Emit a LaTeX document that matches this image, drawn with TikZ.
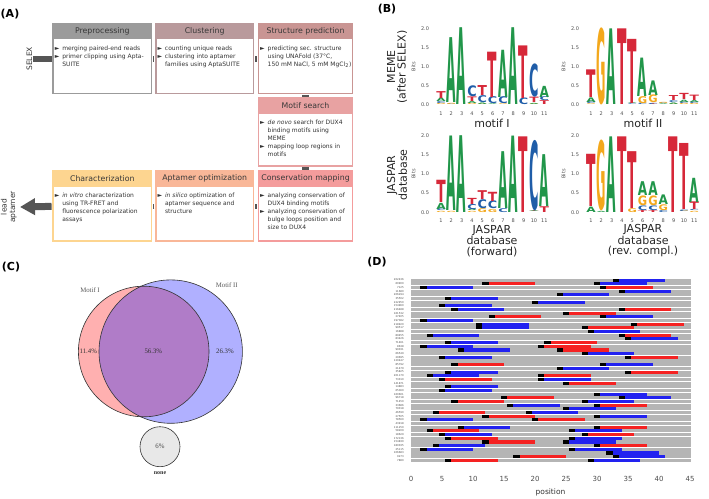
\documentclass[tikz,border=0pt]{standalone}
\usepackage{fontspec}
\setmainfont{DejaVu Sans}
\newfontfamily\vennfont{Liberation Serif}
\usepackage{graphicx}
\usetikzlibrary{arrows.meta, positioning}

% stage colours (A)
\definecolor{preC}{HTML}{9B9B9B}
\definecolor{cluC}{HTML}{B99A9C}
\definecolor{strC}{HTML}{C99593}
\definecolor{motC}{HTML}{E8A2A2}
\definecolor{chaC}{HTML}{FDD590}
\definecolor{optC}{HTML}{F9B798}
\definecolor{conC}{HTML}{F49C9C}
\definecolor{linkC}{HTML}{555555}
% nucleotides (B)
\definecolor{nA}{HTML}{21964A}
\definecolor{nC}{HTML}{1F5DA8}
\definecolor{nG}{HTML}{F3A81C}
\definecolor{nT}{HTML}{D62839}
% venn (C) and hits (D)
\definecolor{vennI}{HTML}{FFB0B0}
\definecolor{vennII}{HTML}{B0B0FF}
\definecolor{vennIII}{HTML}{B07CC8}
\definecolor{hitB}{HTML}{2222F0}
\definecolor{hitR}{HTML}{F52222}

\newcommand{\bul}{\makebox[7.5pt][l]{►}}
\newcommand{\ind}{\hspace*{7.5pt}}

% one logo column: letter/bits from bottom to top
\newcommand{\logocol}[2]{%
  \gdef\cum{0}%
  \foreach \ch/\bt in {#2}{%
    \pgfmathsetmacro\yb{\lbase-38.4*\cum}%
    \pgfmathsetmacro\hb{38.4*\bt}%
    \node[inner sep=0pt, anchor=south] at ({\lx+10.33*(#1-1)},\yb) {\resizebox{9.4pt}{\hb pt}{\textcolor{n\ch}{\bfseries\ch}}};%
    \pgfmathsetmacro\nc{\cum+\bt}\global\let\cum\nc
  }}

\begin{document}
\begin{tikzpicture}[x=1pt, y=-1pt,
  box/.style={draw, fill=white, line width=1.5pt, inner sep=0pt},
  hdr/.style={inner sep=0pt, minimum height=16.7pt, text=black!78, font=\fontsize{7.8}{9}\selectfont},
  body/.style={inner sep=0pt, align=left, text=black!80, font=\fontsize{6}{8}\selectfont},
  link/.style={linkC, line width=5.5pt, shorten <=0.75pt, shorten >=0.75pt},
  panel/.style={font=\fontsize{11}{13}\selectfont\bfseries},
  tick/.style={inner sep=0pt, text=black!70, font=\fontsize{5}{6}\selectfont},
  blab/.style={align=center, inner sep=0pt, text=black!85, font=\fontsize{11}{10.5}\selectfont},
  rowlab/.style={anchor=east, inner sep=0pt, text=black!70, font=\fontsize{2.6}{3}\selectfont},
  lane/.style={fill=black!29},
  vline/.style={draw=black!80, line width=0.6pt},
  vtext/.style={inner sep=0pt, text=black!80, font=\vennfont\fontsize{6.8}{8}\selectfont}]

\useasboundingbox (0,0) rectangle (709,498);

%%% (A) workflow
\node[panel] (pA) at (10,14) {(A)};

\node[box, draw=preC, minimum width=98.5pt, minimum height=69.5pt] (pre) at (102.3,58.8) {};
\node[box, draw=cluC, minimum width=97.8pt, minimum height=69.5pt] (clu) at (204.65,58.8) {};
\node[box, draw=strC, minimum width=94.1pt, minimum height=69.5pt] (str) at (305.5,58.8) {};
\node[box, draw=motC, minimum width=94.1pt, minimum height=67.5pt] (mot) at (305.5,132.2) {};
\node[box, draw=chaC, minimum width=98.5pt, minimum height=69.2pt] (cha) at (102.3,206.35) {};
\node[box, draw=optC, minimum width=97.8pt, minimum height=69.2pt] (opt) at (204.65,206.35) {};
\node[box, draw=conC, minimum width=94.1pt, minimum height=69.2pt] (con) at (305.5,206.35) {};

\node[hdr, fill=preC, minimum width=100pt, anchor=north] (preh) at ([yshift=0.75pt]pre.north) {Preprocessing};
\node[hdr, fill=cluC, minimum width=99.3pt, anchor=north] (cluh) at ([yshift=0.75pt]clu.north) {Clustering};
\node[hdr, fill=strC, minimum width=95.6pt, anchor=north] (strh) at ([yshift=0.75pt]str.north) {Structure prediction};
\node[hdr, fill=motC, minimum width=95.6pt, anchor=north] (moth) at ([yshift=0.75pt]mot.north) {Motif search};
\node[hdr, fill=chaC, minimum width=100pt, anchor=north] (chah) at ([yshift=0.75pt]cha.north) {Characterization};
\node[hdr, fill=optC, minimum width=99.3pt, anchor=north] (opth) at ([yshift=0.75pt]opt.north) {Aptamer optimization};
\node[hdr, fill=conC, minimum width=95.6pt, anchor=north] (conh) at ([yshift=0.75pt]con.north) {Conservation mapping};

\node[body, anchor=north west] (pret) at ([xshift=2.5pt,yshift=-5.8pt]preh.south west)
  {\bul merging paired-end reads\\\bul primer clipping using Apta-\\\ind SUITE};
\node[body, anchor=north west] (clut) at ([xshift=2.5pt,yshift=-5.8pt]cluh.south west)
  {\bul counting unique reads\\\bul clustering into aptamer\\\ind families using AptaSUITE};
\node[body, anchor=north west] (strt) at ([xshift=2.5pt,yshift=-5.8pt]strh.south west)
  {\bul predicting sec. structure\\\ind using UNAFold (37°C,\\\ind 150 mM NaCl, 5 mM MgCl\textsubscript{2})};
\node[body, anchor=north west] (mott) at ([xshift=2.5pt,yshift=-5.8pt]moth.south west)
  {\bul \textit{de novo} search for DUX4\\\ind binding motifs using\\\ind MEME\\\bul mapping loop regions in\\\ind motifs};
\node[body, anchor=north west] (chat) at ([xshift=2.5pt,yshift=-5.8pt]chah.south west)
  {\bul \textit{in vitro} characterization\\\ind using TR-FRET and\\\ind fluorescence polarization\\\ind assays};
\node[body, anchor=north west] (optt) at ([xshift=2.5pt,yshift=-5.8pt]opth.south west)
  {\bul \textit{in silico} optimization of\\\ind aptamer sequence and\\\ind structure};
\node[body, anchor=north west] (cont) at ([xshift=2.5pt,yshift=-5.8pt]conh.south west)
  {\bul analyzing conservation of\\\ind DUX4 binding motifs\\\bul analyzing conservation of\\\ind bulge loops position and\\\ind size to DUX4};

% links between stages
\draw[link] (pre.east) -- (clu.west);
\draw[link] (clu.east) -- (str.west);
\draw[link, line width=6.5pt] (str.south) -- (mot.north);
\draw[link, line width=6.5pt] (mot.south) -- (con.north);
\draw[link] (con.west) -- (opt.east);
\draw[link] (opt.west) -- (cha.east);

% input and output
\coordinate (selex) at (33,58.8);
\draw[link, line width=6pt, shorten <=0pt] (selex) -- (pre.west);
\node[rotate=90, inner sep=0pt, text=black!80, font=\fontsize{7.5}{9}\selectfont] (selexl) at (29.3,58.8) {SELEX};
\coordinate (lead) at (20,207);
\draw[linkC, line width=7pt, shorten <=0.75pt, -{Triangle[length=15pt,width=16pt]}] (cha.west) -- (lead);
\node[rotate=90, align=center, inner sep=0pt, text=black!80, font=\fontsize{7.5}{8.5}\selectfont] (leadl) at (8.75,207) {lead\\aptamer};

%%% (B) sequence logos
\node[panel] (pB) at (387,9) {(B)};
\node[blab, rotate=90] (memel) at (397,67) {MEME\\(after SELEX)};
\node[blab, rotate=90] (jasl) at (397,175) {JASPAR\\database};
\node[blab] (m1l) at (492,123) {motif I};
\node[blab] (m2l) at (643,123) {motif II};
\node[blab] (j1l) at (492,241) {JASPAR\\database\\(forward)};
\node[blab] (j2l) at (643,241) {JASPAR\\database\\(rev. compl.)};

% axes of the four logos
\foreach \ax/\by in {425/105, 575/105, 425/212.3, 575/212.3}{
  \foreach \v [count=\k from 0] in {0.0,0.5,1.0,1.5,2.0}
    \node[tick] at (\ax,{\by-19.2*\k}) {\v};
  \node[tick, rotate=90] at (\ax-11.5,\by-38.4) {Bits};
  \foreach \n in {1,...,11}
    \node[tick] at ({\ax+16+10.33*(\n-1)},\by+8.4) {\n};
}

% MEME motif I
\def\lx{441}\def\lbase{105}
\logocol{1}{G/0.03,C/0.05,A/0.09,T/0.18} \logocol{2}{C/0.02,G/0.03,A/1.69}
\logocol{3}{A/2.0} \logocol{4}{G/0.03,A/0.05,T/0.12,C/0.28}
\logocol{5}{G/0.02,A/0.04,C/0.18,T/0.26} \logocol{6}{A/0.02,C/0.18,T/1.18}
\logocol{7}{G/0.02,C/0.18,A/1.23} \logocol{8}{A/2.0}
\logocol{9}{C/0.17,T/1.37} \logocol{10}{G/0.02,A/0.03,T/0.14,C/0.85}
\logocol{11}{T/0.1,C/0.1,A/0.29}

% MEME motif II
\def\lx{591}\def\lbase{105}
\logocol{1}{G/0.02,C/0.05,A/0.12,T/0.72} \logocol{2}{G/1.97}
\logocol{3}{A/1.97} \logocol{4}{T/1.97}
\logocol{5}{C/0.02,A/0.02,T/1.67} \logocol{6}{C/0.04,G/0.18,A/1.0}
\logocol{7}{T/0.02,C/0.03,G/0.2,A/0.38} \logocol{8}{A/0.02,C/0.02,G/0.03}
\logocol{9}{G/0.02,A/0.04,C/0.05,T/0.13} \logocol{10}{G/0.03,C/0.04,A/0.06,T/0.16}
\logocol{11}{G/0.03,C/0.04,A/0.05,T/0.14}

% JASPAR forward
\def\lx{441}\def\lbase{212.3}
\logocol{1}{G/0.03,C/0.05,A/0.16,T/0.58} \logocol{2}{G/0.03,A/1.94}
\logocol{3}{A/2.0} \logocol{4}{G/0.03,A/0.04,C/0.13,T/0.16}
\logocol{5}{G/0.1,C/0.23,T/0.23} \logocol{6}{G/0.08,C/0.2,T/0.24}
\logocol{7}{C/0.1,A/1.48} \logocol{8}{A/1.99}
\logocol{9}{T/1.97} \logocol{10}{T/0.02,A/0.02,C/1.8}
\logocol{11}{T/0.15,A/1.35}

% JASPAR reverse complement
\def\lx{591}\def\lbase{212.3}
\logocol{1}{A/0.14,T/1.36} \logocol{2}{A/0.03,G/1.81}
\logocol{3}{A/1.97} \logocol{4}{T/1.97}
\logocol{5}{G/0.1,T/1.48} \logocol{6}{T/0.05,C/0.12,G/0.25,A/0.36}
\logocol{7}{T/0.05,C/0.12,G/0.25,A/0.36} \logocol{8}{C/0.05,G/0.15,A/0.25}
\logocol{9}{T/1.97} \logocol{10}{G/0.02,C/0.04,T/1.72}
\logocol{11}{G/0.03,C/0.03,T/0.2,A/0.63}

%%% (C) venn diagram
\node[panel] (pC) at (11,267) {(C)};
\fill[vennI] (143.7,351.5) circle[radius=65.3pt];
\fill[vennII] (170.7,351.6) circle[radius=71.7pt];
\begin{scope}
  \clip (143.7,351.5) circle[radius=65.3pt];
  \fill[vennIII] (170.7,351.6) circle[radius=71.7pt];
\end{scope}
\draw[vline] (143.7,351.5) circle[radius=65.3pt];
\draw[vline] (170.7,351.6) circle[radius=71.7pt];
\node[vtext, text=black!65] (v1l) at (90,290) {Motif I};
\node[vtext, text=black!65] (v2l) at (226.7,285) {Motif II};
\node[vtext] (v1) at (88.3,351.7) {11.4\%};
\node[vtext] (v12) at (153.3,351.7) {56.3\%};
\node[vtext] (v2) at (225,351.7) {26.3\%};
\node[circle, vline, fill=black!9, minimum size=40pt, inner sep=0pt, text=black!70, font=\vennfont\fontsize{6.8}{8}\selectfont] (none) at (160,446.7) {6\%};
\node[vtext, font=\vennfont\bfseries\fontsize{6}{7}\selectfont] (nonel) at (160,473.3) {none};

%%% (D) motif positions
\node[panel] (pD) at (377,262) {(D)};
\foreach \i in {0,...,49}
  \fill[lane] (411,{278.2+3.68*\i+0.3}) rectangle (691,{278.2+3.68*\i+3.38});

% row/start/colour
\foreach \i/\s/\hc in {0/32.5/hitB, 1/11.5/hitR, 1/29.5/hitB, 2/1.5/hitB, 2/30.5/hitR,
  3/33.5/hitB, 4/23.5/hitB, 5/5.5/hitB, 6/19.5/hitB, 7/4.5/hitB, 8/6.5/hitB, 8/33.5/hitR,
  9/24.5/hitR, 10/12.5/hitR, 10/30.5/hitB, 11/1.5/hitB, 12/10.5/hitB, 12/35.5/hitR,
  13/10.5/hitB, 13/27.5/hitR, 14/28.5/hitB, 15/2.5/hitB, 15/33.5/hitR, 16/34.5/hitB,
  17/5.5/hitB, 17/21.5/hitR, 18/1.5/hitB, 18/20.5/hitR, 19/7.5/hitB, 19/23.5/hitR,
  20/27.5/hitB, 21/4.5/hitB, 21/34.5/hitR, 23/6.5/hitR, 23/30.5/hitB, 24/23.5/hitB,
  25/5.5/hitB, 25/34.5/hitR, 26/2.5/hitB, 26/20.5/hitR, 27/4.5/hitR, 27/20.5/hitB,
  28/24.5/hitR, 29/5.5/hitB, 30/4.5/hitB, 31/29.5/hitB, 32/14.5/hitR, 32/33.5/hitB,
  33/6.5/hitR, 33/27.5/hitB, 34/15.5/hitB, 34/29.5/hitR, 35/24.5/hitB, 36/3.5/hitR,
  36/18.5/hitB, 37/11.5/hitR, 37/29.5/hitB, 38/1.5/hitB, 38/19.5/hitR, 40/7.5/hitB,
  40/29.5/hitR, 41/2.5/hitR, 41/25.5/hitB, 42/4.5/hitB, 42/27.5/hitR, 43/5.5/hitR,
  43/25.5/hitB, 44/11.5/hitR, 44/24.5/hitB, 45/3.5/hitB, 45/29.5/hitR, 46/1.5/hitB,
  46/25.5/hitB, 47/31.5/hitB, 48/16.5/hitR, 48/32.5/hitB, 49/5.5/hitR, 49/28.5/hitB}{
  \fill[\hc] ({411+6.2*(\s+1)},{278.2+3.68*\i+0.3}) rectangle ({411+6.2*(\s+8.5)},{278.2+3.68*\i+3.38});
  \fill[black] ({411+6.2*\s},{278.2+3.68*\i+0.3}) rectangle ({411+6.2*(\s+1)},{278.2+3.68*\i+3.38});
}

\foreach \lab [count=\i from 0] in {202436,60900,7125,11680,206294,35502,222950,154960,216488,161532,
  27405,197382,218920,99517,16888,89455,83426,71461,8638,99031,66549,29695,120447,85792,21479,
  35825,201170,73010,141871,14883,65360,160601,96718,71450,33686,79018,46590,27505,78560,43918,
  111250,58209,18629,172136,154830,180035,25115,106683,9273,7880}
  \node[rowlab] at (404,{278.2+3.68*\i+1.84}) {\lab};

\foreach \p in {0,5,...,45}
  \node[tick, font=\fontsize{7}{8}\selectfont] at ({411+6.2*\p},479) {\p};
\node[inner sep=0pt, text=black!80, font=\fontsize{7.5}{9}\selectfont] (posl) at (550.5,492.5) {position};

\end{tikzpicture}
\end{document}
